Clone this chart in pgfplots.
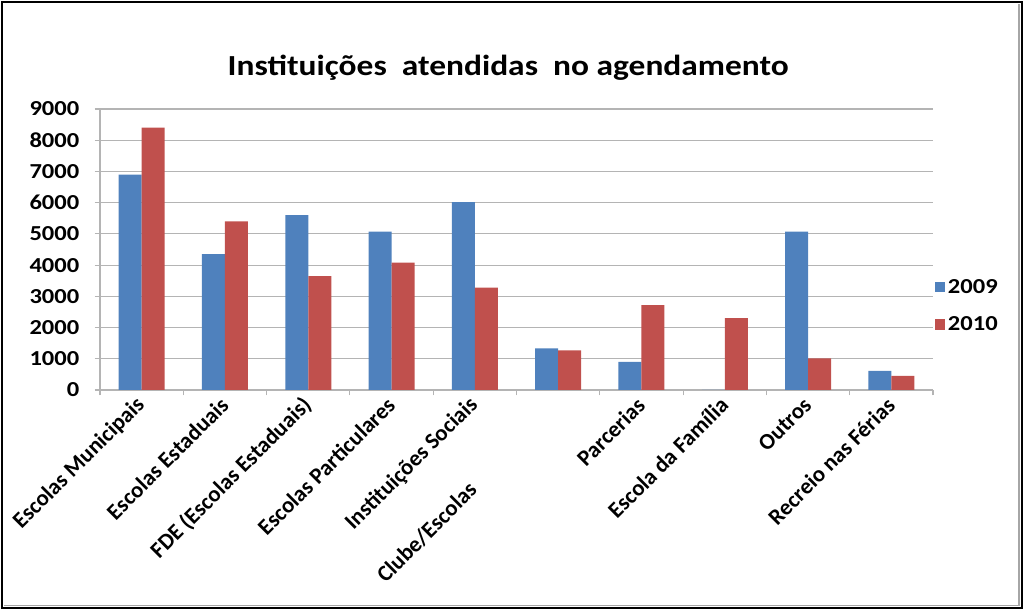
\documentclass[border=0pt]{standalone}
\usepackage{pgfplots}
\pgfplotsset{compat=1.18}
\usepackage{fontspec}
\setmainfont{Carlito}[FakeStretch=1.15]
\newfontfamily\labfont{Carlito}
\definecolor{blueS}{HTML}{4F81BD}
\definecolor{redS}{HTML}{C0504D}
\definecolor{gridc}{HTML}{B4B4B4}
\begin{document}
\begin{tikzpicture}
\useasboundingbox (0,0) rectangle (768pt,457.5pt);
\draw[line width=1.5pt] (1.2pt,1.2pt) rectangle (766.3pt,456.3pt);
\draw[gray!70, line width=1pt] (3pt,3.2pt) -- (764.2pt,3.2pt) -- (764.2pt,454.5pt);
\begin{axis}[
  at={(75pt,165pt)}, anchor=south west,
  scale only axis, width=624.75pt, height=210.75pt,
  ybar=0pt, bar width=17.25pt,
  xmin=0.5, xmax=10.5, ymin=0, ymax=9000,
  xtick={1,...,10},
  xticklabels={Escolas Municipais, Escolas Estaduais, FDE (Escolas Estaduais), Escolas Particulares, Instituições Sociais, Clube/Escolas\hspace*{90pt}, Parcerias, Escola da Família, Outros, Recreio nas Férias},
  major x tick style={draw=none},
  minor xtick={0.5,1.5,...,10.5},
  minor tick length=4pt,
  ytick={0,1000,...,9000},
  major tick length=4pt,
  tick align=outside,
  tick style={gridc, line width=0.8pt},
  axis x line*=bottom, axis y line*=left,
  axis line style={gridc, line width=0.9pt},
  ymajorgrids, grid style={gridc, line width=0.9pt},
  /pgf/number format/assume math mode=true,
  /pgf/number format/1000 sep={},
  yticklabel style={font=\fontsize{16}{19}\selectfont\bfseries, xshift=-8pt},
  xticklabel style={font=\labfont\fontsize{17}{20}\selectfont\bfseries, rotate=45, anchor=east, yshift=-3pt},
  title={Instituições\ \ atendidas\ \ no agendamento},
  title style={font=\fontsize{21.8}{26}\selectfont\bfseries, at={(0.49,1)}, anchor=south, yshift=12pt},
  legend style={at={(1.0,0.30)}, anchor=west, draw=none, fill=none,
    font=\fontsize{16}{19}\selectfont\bfseries, row sep=12pt, xshift=-2pt},
  legend cell align=left,
]
\addplot[fill=blueS, draw=none, legend image code/.code={\fill[blueS] (0pt,-4pt) rectangle (8pt,4pt);}]
  coordinates {(1,6900) (2,4350) (3,5600) (4,5070) (5,6020) (6,1330) (7,900) (8,0) (9,5070) (10,610)};
\addplot[fill=redS, draw=none, legend image code/.code={\fill[redS] (0pt,-4pt) rectangle (8pt,4pt);}]
  coordinates {(1,8400) (2,5400) (3,3650) (4,4080) (5,3280) (6,1270) (7,2720) (8,2300) (9,1010) (10,450)};
\legend{2009,2010}
\end{axis}
\end{tikzpicture}
\end{document}
